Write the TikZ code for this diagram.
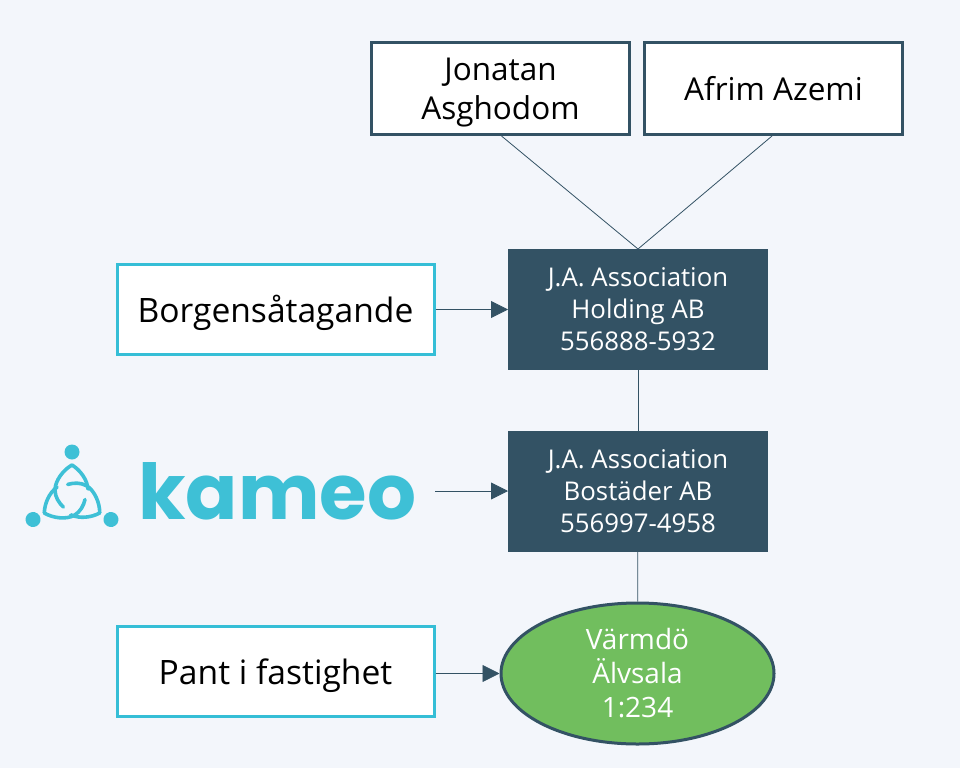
\documentclass[tikz,border=0pt]{standalone}
\usepackage{fontspec}
\setmainfont{Open Sans}
\newfontfamily\logofont{Poppins}
\usepackage{tikz}
\usetikzlibrary{shapes.geometric, arrows.meta, positioning}
\definecolor{pagebg}{HTML}{F3F6FB}
\definecolor{navy}{HTML}{335264}
\definecolor{teal}{HTML}{35BED6}
\definecolor{leaf}{HTML}{71BE5E}
\definecolor{logoblue}{HTML}{3EC0D6}

\begin{document}
\begin{tikzpicture}[
        x=1pt,
        y=-1pt,
        ownerbox/.style={rectangle, draw=navy, fill=white, line width=3pt, minimum width=258pt, minimum height=92pt, align=center, text depth=-2pt, font=\fontsize{31.5}{39}\selectfont},
        sidebox/.style={rectangle, draw=teal, fill=white, line width=3pt, minimum width=317pt, minimum height=90pt, align=center, text depth=2pt, font=\fontsize{33.6}{38}\selectfont},
        firmbox/.style={rectangle, fill=navy, text=white, minimum width=260pt, minimum height=121pt, align=center, outer sep=0pt, font=\fontsize{25.8}{32}\selectfont},
        estate/.style={ellipse, draw=navy, fill=leaf, text=white, line width=3pt, minimum width=273pt, minimum height=141pt, inner sep=0pt, align=center, font=\fontsize{28}{34}\selectfont},
        link/.style={navy, line width=0.8pt},
        arrow/.style={navy, line width=0.8pt, -{Triangle[length=17pt, width=17pt]}},
        knot/.style={logoblue, line width=3.6pt, line cap=round}
    ]
        \useasboundingbox[fill=pagebg] (0,0) rectangle (960,768);

        \node[firmbox] (holding) at (638,309.5) {J.A. Association\\Holding AB\\556888-5932};
        \node[firmbox, below=61pt of holding] (bostader) {J.A. Association\\Bostäder AB\\556997-4958};
        \node[estate] (alvsala) at (637.5,673.5) {Värmdö\\Älvsala\\1:234};
        \node[ownerbox] (jonatan) at (500.5,88.5) {Jonatan\\Asghodom};
        \node[ownerbox, right=12pt of jonatan, text depth=-3pt] (afrim) {Afrim Azemi};
        \node[sidebox] (borgen) at (275.5,309.5) {Borgensåtagande};
        \node[sidebox, text depth=-2pt] (pant) at (275.5,671.5) {Pant i fastighet};
        \node[font=\logofont\bfseries\fontsize{77}{77}\selectfont, text=logoblue, inner sep=0pt, anchor=base west] (kameo) at (138,519) {kameo};
        \coordinate (kameoend) at (435,491);

        % logo mark
        \foreach \turn in {0,120,240} {
            \begin{scope}[shift={(72,497)}, rotate=\turn]
                \fill[logoblue] (0,-45) circle (7.5pt);
                \draw[knot] (0,-32) .. controls (-9,-27) and (-17,-16) .. (-17,-7) .. controls (-17,0) and (-13,6) .. (-8.7,10);
                \draw[knot] (0,-32) .. controls (8,-27) and (15,-18) .. (16,-8);
            \end{scope}
        }

        \draw[link] ([xshift=1pt]jonatan.south) -- (holding.north);
        \draw[link] ([xshift=-1.5pt]afrim.south) -- (holding.north);
        \draw[link] (holding) -- (bostader);
        \draw[link] (bostader) -- (alvsala);
        \draw[arrow] (borgen) -- (holding);
        \draw[arrow] (kameoend) -- (bostader.west |- kameoend);
        \draw[arrow] (pant.east |- alvsala.west) -- (alvsala.west);
    \end{tikzpicture}
\end{document}
